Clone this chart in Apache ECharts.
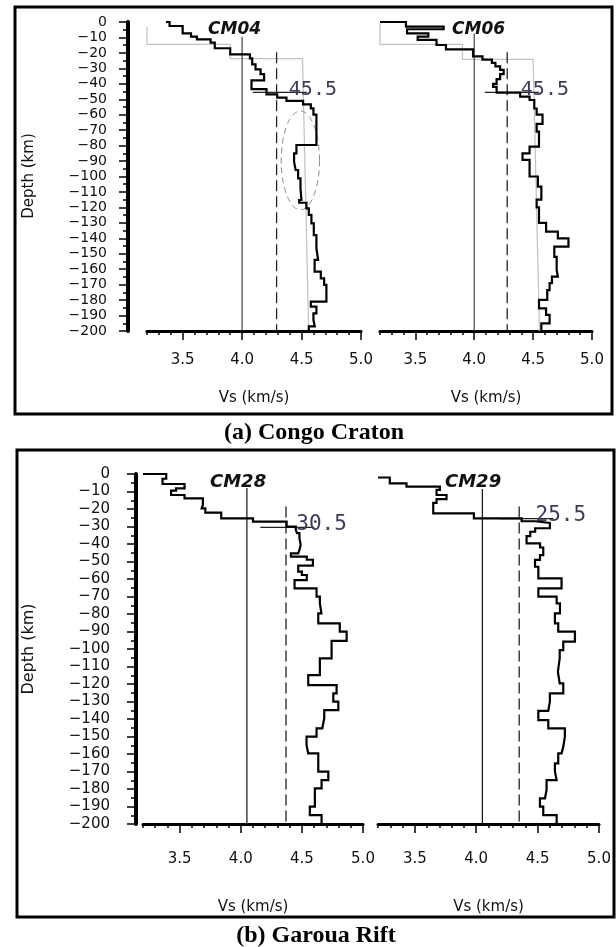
<!DOCTYPE html>
<html>
<head>
<meta charset="utf-8">
<script src="https://cdn.jsdelivr.net/npm/echarts@6/dist/echarts.min.js"></script>
<style>
  html, body { margin: 0; padding: 0; background: #fff; }
  #chart { width: 616px; height: 947px; }
</style>
</head>
<body>
<div id="chart"></div>
<script>
// stations, one panel each
const stations = ['CM04', 'CM06', 'CM28', 'CM29'];

// layer tops (km, positive downward) and Vs (km/s) of each layer
const cm04Top = [0, 0, 2.6, 7.3, 9.5, 11.3, 13.4, 17, 20.9, 23.5, 27.4, 30.6, 33.7, 37.8, 43.4, 46.8, 49, 51.1, 53.3, 55.9, 60,
  79.6, 85, 90.4, 95.8, 101.2, 107.7, 115.2, 117, 120.6, 124.9, 130.3, 137.9, 146.5, 154, 161.6, 165.9, 170.2, 181, 184.2, 188.6, 192.9, 197];
const cm04Vs = [3.36, 3.39, 3.50, 3.57, 3.62, 3.735, 3.77, 3.90, 4.066, 4.085, 4.113, 4.155, 4.185, 4.079, 4.205, 4.295, 4.373, 4.513, 4.578, 4.60, 4.625,
  4.457, 4.437, 4.45, 4.471, 4.491, 4.499, 4.48, 4.541, 4.561, 4.583, 4.603, 4.625, 4.639, 4.61, 4.662, 4.69, 4.709, 4.578, 4.625, 4.60, 4.611, 4.561];

const cm06Top = [0, 0, 3.0, 4.7, 7.3, 9.5, 11.6, 14.9, 17.7, 22.2, 24.4, 26.5, 28.7, 31, 33.7, 37, 40, 42, 45.7, 48.3,
  50.5, 56, 60, 66, 71, 80.6, 85, 89.3, 100, 106.6, 115, 120, 130, 135.7, 140, 145.4, 152, 160.5, 164.8, 169, 173.5, 179.9, 185.3, 189.6, 195];
const cm06Vs = [3.2, 3.42, 3.74, 3.43, 3.61, 3.52, 3.68, 3.76, 3.99, 4.07, 4.15, 4.18, 4.22, 4.25, 4.22, 4.19, 4.16, 4.19, 4.39, 4.47,
  4.51, 4.53, 4.58, 4.53, 4.55, 4.47, 4.41, 4.47, 4.54, 4.57, 4.53, 4.55, 4.61, 4.71, 4.80, 4.68, 4.70, 4.71, 4.66, 4.64, 4.62, 4.55, 4.61, 4.64, 4.57];

const cm28Top = [0, 0, 2.7, 5.7, 8.2, 9.5, 12, 13.9, 17.7, 19.6, 22.1, 25.3, 27.2, 30.1, 31.9, 33.8, 36.7, 40.6, 43.4, 45.3, 47.2,
  49, 52.4, 55.8, 57.7, 60.6, 65.3, 70.1, 73.9, 79.6, 85.3, 90.1, 95.4, 105.3, 114.9, 120.6, 125.4, 130.1, 134.9, 139.6, 145.3,
  150.1, 154.9, 159.6, 170.1, 174.9, 179.6, 190.1, 194.9];
const cm28Vs = [3.2, 3.39, 3.36, 3.54, 3.47, 3.43, 3.54, 3.69, 3.68, 3.71, 3.84, 4.10, 4.375, 4.45, 4.46, 4.48, 4.49, 4.48, 4.47, 4.41, 4.54,
  4.59, 4.47, 4.50, 4.54, 4.44, 4.62, 4.647, 4.66, 4.634, 4.81, 4.866, 4.743, 4.647, 4.552, 4.784, 4.757, 4.798, 4.683, 4.667, 4.62,
  4.538, 4.552, 4.634, 4.716, 4.661, 4.606, 4.565, 4.661];

const cm29Top = [2, 2, 5.3, 7.2, 9.1, 12, 14.4, 16.5, 22.5, 25.3, 27, 28, 31, 33, 35.5, 39.6, 42, 46.3, 49.1, 53,
  59.6, 65.3, 70.1, 73.9, 79.6, 85.3, 90.1, 95.8, 100.6, 105.3, 113, 119.6, 125.3, 130.1, 135.3, 140.6, 145.3, 150.1, 155.8, 159.6,
  165.3, 170.1, 174.9, 180.6, 185.3, 190.1, 194.9];
const cm29Vs = [3.2, 3.296, 3.432, 3.704, 3.677, 3.758, 3.677, 3.65, 3.981, 4.37, 4.48, 4.60, 4.48, 4.44, 4.41, 4.52, 4.546, 4.519, 4.479, 4.506,
  4.695, 4.506, 4.655, 4.682, 4.641, 4.668, 4.804, 4.709, 4.68, 4.665, 4.68, 4.709, 4.60, 4.587, 4.506, 4.587, 4.722, 4.709, 4.695, 4.668,
  4.641, 4.655, 4.573, 4.56, 4.519, 4.546, 4.655];

const bottomDepth = 200;

// grey reference model (Congo Craton panels only)
const cm04RefVs = [3.2, 3.2, 3.90, 3.90, 4.508, 4.56];
const cm04RefDepth = [3, 14.5, 14.5, 23.7, 23.7, 200];
const cm06RefVs = [3.2, 3.2, 3.90, 3.90, 4.50, 4.554];
const cm06RefDepth = [0.6, 14.5, 14.5, 24.2, 24.2, 200];

// vertical guide lines per station
const solidVs = [4.0, 4.0, 4.05, 4.05];
const solidTop = [9.5, 7.5, 8, 8.5];
const dashVs = [4.29, 4.28, 4.37, 4.35];
const dashTop = [19.5, 19.5, 18.5, 18.5];

// Moho picks (km) and where their tick line starts (km/s)
const mohoDepth = [45.5, 45.5, 30.5, 25.5];
const mohoStartVs = [4.09, 4.09, 4.16, 4.19];

// dashed ellipse in CM04: centre Vs, centre depth, half width (km/s), half height (km)
const lvzEllipse = [4.49, 89.6, 0.161, 32];

// axis ticks
const vsMajorTicks = [3.5, 4.0, 4.5, 5.0];
const vsMinorTicks = [3.2, 3.3, 3.4, 3.5, 3.6, 3.7, 3.8, 3.9, 4.0, 4.1, 4.2, 4.3, 4.4, 4.5, 4.6, 4.7, 4.8, 4.9, 5.0];

const profileTops = [cm04Top, cm06Top, cm28Top, cm29Top];
const profileVs = [cm04Vs, cm06Vs, cm28Vs, cm29Vs];

function stepPoints(tops, vs) {
  const pts = [];
  for (let i = 0; i < tops.length; i++) {
    const next = i + 1 < tops.length ? tops[i + 1] : bottomDepth;
    pts.push([vs[i], -tops[i]]);
    pts.push([vs[i], -next]);
  }
  return pts;
}

function zipRef(vs, depth) {
  return vs.map((v, i) => [v, -depth[i]]);
}

const SANS = '"DejaVu Sans", "Liberation Sans", sans-serif';
const MONO = '"DejaVu Sans Mono", "Liberation Mono", monospace';

const grids = [
  { left: 147, top: 22, width: 214, height: 309 },
  { left: 380, top: 22, width: 212, height: 309 },
  { left: 143, top: 474, width: 220, height: 350 },
  { left: 378, top: 474, width: 221, height: 350 }
];

// panel a / panel b differ a bit in type size and spacing
const panelStyle = [
  { yOffset: 19, yMargin: 21, yFont: 14, xMargin: 22, xFont: 15, nameGap: 60, nameFont: 15, monoFont: 20, titleFont: 17 },
  { yOffset: 7, yMargin: 26, yFont: 15, xMargin: 28, xFont: 15, nameGap: 76, nameFont: 15, monoFont: 21, titleFont: 18 }
];

const xAxes = [];
const yAxes = [];
grids.forEach((g, i) => {
  const ps = panelStyle[i < 2 ? 0 : 1];
  xAxes.push({
    type: 'value', gridIndex: i, min: 3.2, max: 5.0, position: 'bottom',
    axisLine: { show: true, onZero: false, lineStyle: { color: '#000', width: 3 } },
    axisTick: { show: true, customValues: vsMinorTicks, length: 4, lineStyle: { color: '#000', width: 1.5 } },
    axisLabel: { show: false },
    splitLine: { show: false }
  });
  xAxes.push({
    type: 'value', gridIndex: i, min: 3.2, max: 5.0, position: 'bottom',
    axisLine: { show: false, onZero: false },
    axisTick: { show: true, customValues: vsMajorTicks, length: 9, lineStyle: { color: '#000', width: 1.5 } },
    axisLabel: {
      show: true, customValues: vsMajorTicks, margin: ps.xMargin,
      formatter: v => v.toFixed(1),
      color: '#111', fontSize: ps.xFont, fontFamily: SANS
    },
    splitLine: { show: false },
    name: 'Vs (km/s)', nameLocation: 'middle', nameGap: ps.nameGap,
    nameTextStyle: { color: '#111', fontSize: ps.nameFont, fontFamily: SANS }
  });
  const showY = i === 0 || i === 2;
  yAxes.push({
    type: 'value', gridIndex: i, min: -200, max: 0, interval: 10, position: 'left',
    show: showY, offset: ps.yOffset,
    axisLine: { show: true, onZero: false, lineStyle: { color: '#000', width: 4 } },
    axisTick: { show: true, length: 9, lineStyle: { color: '#000', width: 1.5 } },
    minorTick: { show: true, splitNumber: 2, length: 5, lineStyle: { color: '#000', width: 1.5 } },
    axisLabel: {
      margin: ps.yMargin, color: '#111', fontSize: ps.yFont, fontFamily: SANS,
      formatter: v => (v === 0 ? '0' : '\u2212' + Math.abs(v))
    },
    splitLine: { show: false }
  });
});

const series = [];

// grey reference models
[[cm04RefVs, cm04RefDepth], [cm06RefVs, cm06RefDepth]].forEach((r, i) => {
  series.push({
    type: 'line', xAxisIndex: i * 2, yAxisIndex: i, data: zipRef(r[0], r[1]),
    symbol: 'none', silent: true, z: 2,
    lineStyle: { color: '#c2c2c2', width: 1.2 }
  });
});

stations.forEach((name, i) => {
  const panelA = i < 2;
  // solid and dashed vertical guides
  series.push({
    type: 'line', xAxisIndex: i * 2, yAxisIndex: i, symbol: 'none', silent: true, z: 3,
    data: [[solidVs[i], -solidTop[i]], [solidVs[i], -bottomDepth]],
    lineStyle: { color: panelA ? '#444' : '#111', width: 1.2 }
  });
  series.push({
    type: 'line', xAxisIndex: i * 2, yAxisIndex: i, symbol: 'none', silent: true, z: 3,
    data: [[dashVs[i], -dashTop[i]], [dashVs[i], -bottomDepth]],
    lineStyle: { color: '#222', width: 1.3, type: [11, 5] }
  });
  // moho tick + label
  const ps = panelStyle[panelA ? 0 : 1];
  series.push({
    type: 'custom', xAxisIndex: i * 2, yAxisIndex: i, silent: true, z: 4,
    data: [[mohoStartVs[i], -mohoDepth[i]]],
    encode: { x: 0, y: 1 },
    renderItem: function (params, api) {
      const p = api.coord([api.value(0), api.value(1)]);
      return {
        type: 'group',
        children: [
          { type: 'line', shape: { x1: p[0], y1: p[1], x2: p[0] + 54, y2: p[1] },
            style: { stroke: '#222', lineWidth: 1.2 } },
          { type: 'text', x: p[0] + 36, y: p[1] - 3,
            style: { text: mohoDepth[i].toFixed(1), fontFamily: MONO, fontSize: ps.monoFont,
              fill: '#3d3d55', align: 'left', verticalAlign: 'middle' } }
        ]
      };
    }
  });
  // velocity profile
  series.push({
    type: 'line', xAxisIndex: i * 2, yAxisIndex: i, symbol: 'none', silent: true, z: 5,
    data: stepPoints(profileTops[i], profileVs[i]),
    lineStyle: { color: '#000', width: 2.2, join: 'miter' }
  });
});

// dashed ellipse on CM04
series.push({
  type: 'custom', xAxisIndex: 0, yAxisIndex: 0, silent: true, z: 4,
  data: [[lvzEllipse[0], -lvzEllipse[1], lvzEllipse[2], lvzEllipse[3]]],
  encode: { x: 0, y: 1 },
  renderItem: function (params, api) {
    const c = api.coord([api.value(0), api.value(1)]);
    const s = api.size([api.value(2), api.value(3)]);
    const pts = [];
    for (let k = 0; k < 90; k++) {
      const t = (k / 90) * Math.PI * 2;
      pts.push([c[0] + s[0] * Math.cos(t), c[1] + s[1] * Math.sin(t)]);
    }
    return {
      type: 'polygon', shape: { points: pts },
      style: { fill: 'none', stroke: '#8c8c8c', lineWidth: 1, lineDash: [6, 4] }
    };
  }
});

const titlePos = [[208, 30], [452, 30], [210, 482], [445, 482]];

const graphic = [
  { type: 'rect', shape: { x: 15, y: 7, width: 597, height: 407 },
    style: { fill: 'none', stroke: '#000', lineWidth: 3 }, z: 100 },
  { type: 'rect', shape: { x: 17, y: 450, width: 597, height: 467 },
    style: { fill: 'none', stroke: '#000', lineWidth: 3 }, z: 100 },
  { type: 'text', x: 314, y: 433,
    style: { text: '(a) Congo Craton', font: 'bold 24px "Liberation Serif", "Times New Roman", serif',
      fill: '#000', align: 'center', verticalAlign: 'middle' } },
  { type: 'text', x: 316, y: 936,
    style: { text: '(b) Garoua Rift', font: 'bold 24px "Liberation Serif", "Times New Roman", serif',
      fill: '#000', align: 'center', verticalAlign: 'middle' } },
  { type: 'text', x: 29, y: 176, rotation: Math.PI / 2,
    style: { text: 'Depth (km)', fontFamily: SANS, fontSize: 15, fill: '#111', align: 'center', verticalAlign: 'middle' } },
  { type: 'text', x: 29, y: 649, rotation: Math.PI / 2,
    style: { text: 'Depth (km)', fontFamily: SANS, fontSize: 16, fill: '#111', align: 'center', verticalAlign: 'middle' } }
];
stations.forEach((name, i) => {
  const ps = panelStyle[i < 2 ? 0 : 1];
  graphic.push({
    type: 'text', x: titlePos[i][0], y: titlePos[i][1], z: 50,
    style: { text: name, fontFamily: SANS, fontSize: ps.titleFont, fontWeight: 'bold', fontStyle: 'italic',
      fill: '#111', align: 'left', verticalAlign: 'middle' }
  });
});

const chart = echarts.init(document.getElementById('chart'), null, { renderer: 'canvas' });
chart.setOption({
  backgroundColor: '#fff',
  animation: false,
  grid: grids,
  xAxis: xAxes,
  yAxis: yAxes,
  series: series,
  graphic: graphic
});
</script>
</body>
</html>
